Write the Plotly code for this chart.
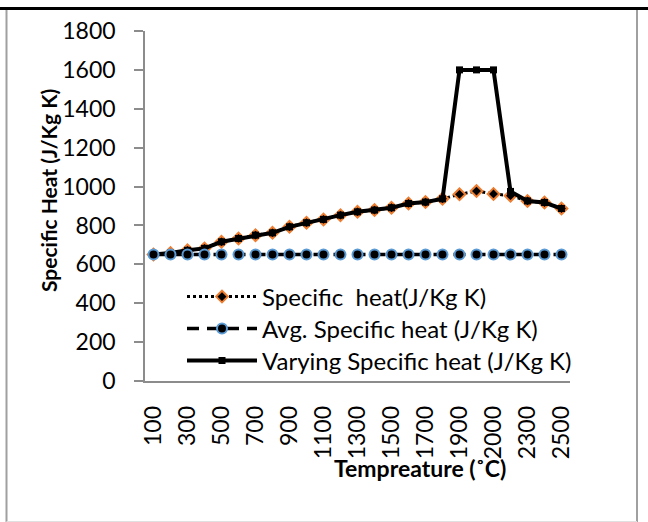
import plotly.graph_objects as go

temps = ["100", "200", "300", "400", "500", "600", "700", "800", "900", "1000",
         "1100", "1200", "1300", "1400", "1500", "1600", "1700", "1800", "1900",
         "1950", "2000", "2100", "2300", "2400", "2500"]
specific_heat = [650, 658, 672, 682, 716, 733, 750, 762, 793, 814, 831, 853, 870,
                 879, 891, 913, 920, 937, 960, 977, 962, 953, 926, 918, 887]
avg_specific_heat = [650] * 25
varying_specific_heat = [650, 658, 672, 682, 716, 733, 750, 762, 793, 814, 831, 853, 870,
                         879, 891, 913, 920, 937, 1600, 1600, 1600, 975, 926, 918, 887]
x_tick_labels = temps[::2]
y_ticks = [0, 200, 400, 600, 800, 1000, 1200, 1400, 1600, 1800]

W, H = 648, 522
ML, MR, MT, MB = 145, 78, 31, 141
PW, PH = W - ML - MR, H - MT - MB


def px2x(px):
    return (px - ML) / PW


def px2y(py):
    return (H - MB - py) / PH


FONT = "Lato"
FS = 23

fig = go.Figure()
fig.add_trace(go.Scatter(
    x=temps, y=specific_heat, name="Specific  heat(J/Kg K)", mode="lines+markers",
    line=dict(color="black", width=3, dash="dot"),
    marker=dict(symbol="diamond", size=9, color="black", line=dict(color="#ED7D31", width=2)),
    legend="legend"))
fig.add_trace(go.Scatter(
    x=temps, y=varying_specific_heat, name="Varying Specific heat (J/Kg K)", mode="lines+markers",
    line=dict(color="black", width=4),
    marker=dict(symbol="square", size=7, color="black"),
    legend="legend3"))
fig.add_trace(go.Scatter(
    x=temps, y=avg_specific_heat, name="Avg. Specific heat (J/Kg K)", mode="lines+markers",
    line=dict(color="black", width=3.5, dash="12px,8px"),
    marker=dict(symbol="circle", size=10, color="black", line=dict(color="#5B9BD5", width=2)),
    legend="legend2"))

border_shapes = [
    dict(type="line", xref="paper", yref="paper", x0=px2x(0), x1=px2x(W), y0=px2y(8.5), y1=px2y(8.5),
         line=dict(color="black", width=3)),
    dict(type="line", xref="paper", yref="paper", x0=px2x(6.5), x1=px2x(6.5), y0=px2y(10), y1=px2y(522),
         line=dict(color="#A0A0A0", width=2)),
    dict(type="line", xref="paper", yref="paper", x0=px2x(637), x1=px2x(637), y0=px2y(10), y1=px2y(522),
         line=dict(color="#A0A0A0", width=2)),
    dict(type="line", xref="paper", yref="paper", x0=px2x(6.5), x1=px2x(637), y0=px2y(521.5), y1=px2y(521.5),
         line=dict(color="#E0E0E0", width=1)),
]


def legend_row(py):
    return dict(x=px2x(182), y=px2y(py), xanchor="left", yanchor="middle",
                bgcolor="rgba(0,0,0,0)", font=dict(family=FONT, size=24, color="black"),
                itemwidth=70)


fig.update_layout(
    width=W, height=H,
    margin=dict(l=ML, r=MR, t=MT, b=MB, pad=0),
    paper_bgcolor="white", plot_bgcolor="white",
    font=dict(family=FONT, size=FS, color="black"),
    showlegend=True,
    legend=legend_row(297),
    legend2=legend_row(329),
    legend3=legend_row(361),
    shapes=border_shapes,
    annotations=[
        dict(text="<b>Tempreature (˚C)</b>", xref="paper", yref="paper",
             x=px2x(420), y=px2y(468), xanchor="center", yanchor="middle", showarrow=False,
             font=dict(family=FONT, size=FS, color="black")),
        dict(text="<b>Specific Heat (J/Kg K)</b>", xref="paper", yref="paper",
             x=px2x(48), y=px2y(191), xanchor="center", yanchor="middle", showarrow=False,
             textangle=-90, font=dict(family=FONT, size=21, color="black")),
    ],
)
fig.update_xaxes(
    type="category", range=[-0.5, len(temps) - 0.5],
    tickmode="array", tickvals=x_tick_labels, ticktext=x_tick_labels, tickangle=-90,
    showline=True, linecolor="#8C8C8C", linewidth=1.5, showgrid=False, zeroline=False,
    ticks="", ticklabelstandoff=14,
    tickfont=dict(family=FONT, size=FS, color="black"))
fig.update_yaxes(
    range=[0, 1800], tickmode="array", tickvals=y_ticks,
    showline=True, linecolor="#8C8C8C", linewidth=1.5, showgrid=False, zeroline=False,
    ticks="outside", ticklen=9, tickcolor="#8C8C8C", tickwidth=1.5, ticklabelstandoff=14,
    tickfont=dict(family=FONT, size=FS, color="black"))

fig.write_html("out.html")
